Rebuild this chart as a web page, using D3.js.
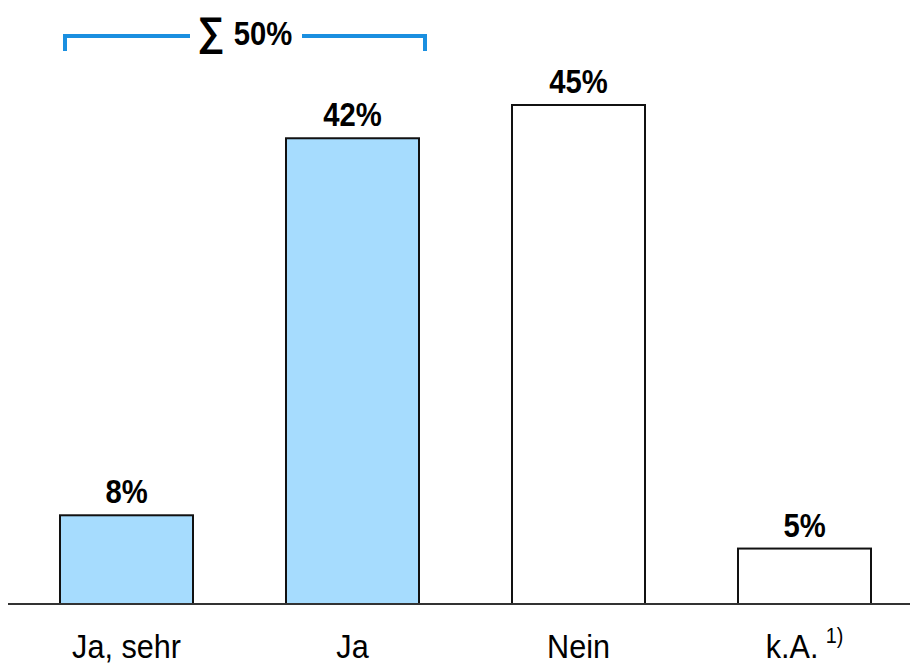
<!DOCTYPE html>
<html>
<head>
<meta charset="utf-8">
<script src="https://cdn.jsdelivr.net/npm/d3@7"></script>
<style>
  body { margin: 0; background: #fff; }
  text { font-family: "Liberation Sans", Arial, sans-serif; }
</style>
</head>
<body>
<svg id="chart"></svg>
<script>
var categories = ["Ja, sehr", "Ja", "Nein", "k.A."];
var values = [8, 42, 45, 5];
var highlighted = [true, true, false, false];
var sumValue = "50%";

var width = 910, height = 664;
var baseY = 604;

var svg = d3.select('#chart')
  .attr('width', width)
  .attr('height', height);

var x = d3.scaleBand()
  .domain(categories)
  .range([3.5, 927.5])
  .paddingInner(0.4115)
  .paddingOuter(0.25);

var y = d3.scaleLinear()
  .domain([0, 45])
  .range([baseY, 105]);

svg.append("g")
  .selectAll("rect")
  .data(values)
  .enter()
  .append("rect")
  .attr("x", function (d, i) { return x(categories[i]); })
  .attr("y", function (d) { return y(d); })
  .attr("width", x.bandwidth())
  .attr("height", function (d) { return baseY - y(d); })
  .attr("fill", function (d, i) { return highlighted[i] ? "#a6dcfe" : "#ffffff"; })
  .attr("stroke", "#111")
  .attr("stroke-width", 2);

// baseline
svg.append("line")
  .attr("x1", 8).attr("x2", width)
  .attr("y1", baseY).attr("y2", baseY)
  .attr("stroke", "#333")
  .attr("stroke-width", 2);

// value labels (narrowed to look like the condensed face)
svg.append("g")
  .selectAll("text")
  .data(values)
  .enter()
  .append("text")
  .attr("transform", function (d, i) {
    return "translate(" + (x(categories[i]) + x.bandwidth() / 2) + "," + (y(d) - 12) + ") scale(0.86,1)";
  })
  .attr("text-anchor", "middle")
  .attr("font-size", 34)
  .attr("font-weight", "bold")
  .text(function (d) { return d + "%"; });

// category labels
var cat = svg.append("g")
  .selectAll("text")
  .data(categories)
  .enter()
  .append("text")
  .attr("transform", function (d) {
    return "translate(" + (x(d) + x.bandwidth() / 2) + ",658) scale(0.9,1)";
  })
  .attr("text-anchor", "middle")
  .attr("font-size", 34)
  .text(function (d) { return d; });

cat.filter(function (d) { return d === "k.A."; })
  .append("tspan")
  .attr("font-size", 22)
  .attr("dx", 8)
  .attr("dy", -15)
  .text("1)");

// bracket over the highlighted bars
var bx1 = x(categories[0]) + 5;
var bx2 = x(categories[1]) + x.bandwidth() + 6;
var by = 36;
var blue = "#1a8fe0";

svg.append("path")
  .attr("d", "M" + bx1 + "," + (by + 15) + "V" + by + "H" + 190)
  .attr("fill", "none")
  .attr("stroke", blue)
  .attr("stroke-width", 4);

svg.append("path")
  .attr("d", "M" + 302 + "," + by + "H" + bx2 + "V" + (by + 15))
  .attr("fill", "none")
  .attr("stroke", blue)
  .attr("stroke-width", 4);

svg.append("text")
  .attr("transform", "translate(211,45) scale(0.95,1)")
  .attr("text-anchor", "middle")
  .attr("font-size", 40)
  .attr("font-weight", "bold")
  .attr("font-family", "DejaVu Sans")
  .text("\u2211");

svg.append("text")
  .attr("transform", "translate(263,45) scale(0.86,1)")
  .attr("text-anchor", "middle")
  .attr("font-size", 34)
  .attr("font-weight", "bold")
  .text(sumValue);
</script>
</body>
</html>
